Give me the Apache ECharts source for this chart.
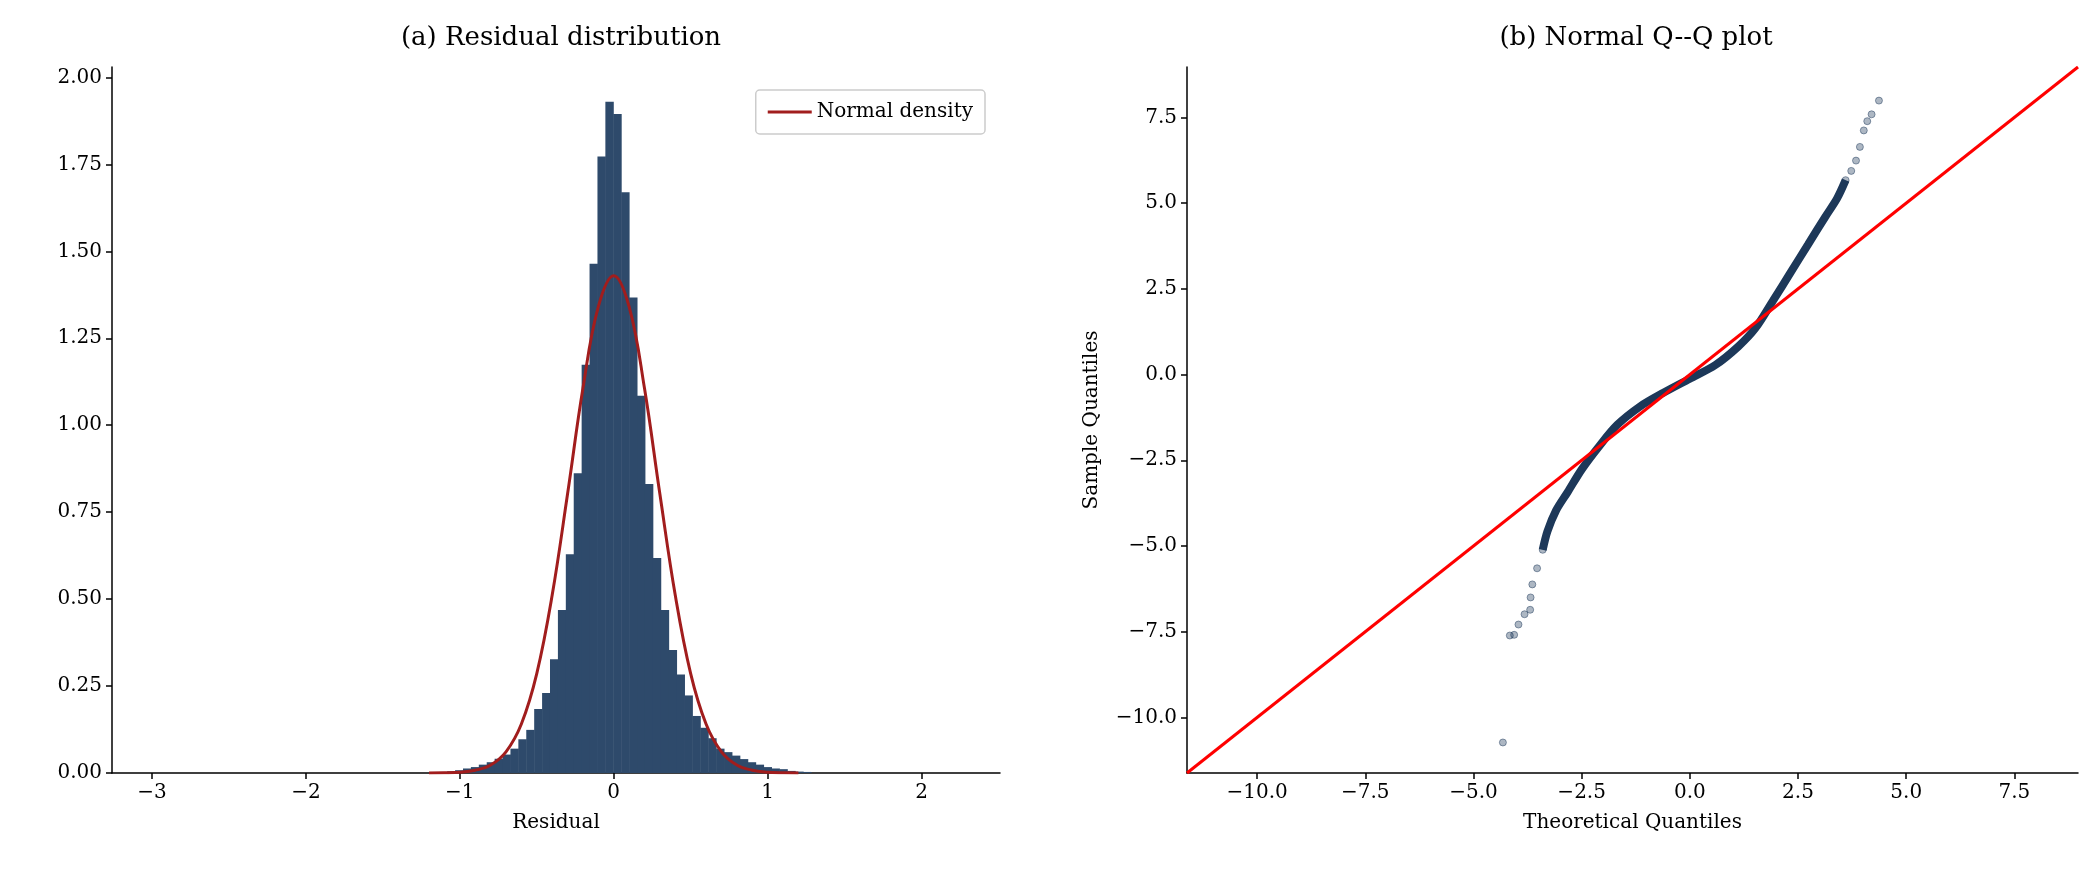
<!DOCTYPE html>
<html>
<head>
<meta charset="utf-8">
<script src="https://cdn.jsdelivr.net/npm/echarts@6/dist/echarts.min.js"></script>
<style>html,body{margin:0;background:#fff}#main{width:2089px;height:887px}</style>
</head>
<body>
<div id="main"></div>
<script>
// histogram: bins of equal width starting at binStart
var binStart = -1.185;
var binWidth = 0.0514;
var density = [0.002, 0.003, 0.005, 0.008, 0.013, 0.017, 0.024, 0.031, 0.041, 0.053,
    0.070, 0.097, 0.124, 0.184, 0.230, 0.327, 0.469, 0.629, 0.862, 1.174,
    1.464, 1.773, 1.930, 1.895, 1.670, 1.367, 1.085, 0.831, 0.618, 0.469,
    0.354, 0.283, 0.223, 0.164, 0.130, 0.100, 0.070, 0.060, 0.050, 0.040,
    0.031, 0.024, 0.017, 0.013, 0.011, 0.006, 0.004, 0.003];

// normal density curve
var normX = [-1.2, -1.1, -1.0, -0.9, -0.8, -0.7, -0.6, -0.5, -0.4, -0.3, -0.2, -0.1, 0,
    0.1, 0.2, 0.3, 0.4, 0.5, 0.6, 0.7, 0.8, 0.9, 1.0, 1.1, 1.2];
var normY = [0.0001, 0.0006, 0.0023, 0.008, 0.023, 0.061, 0.141, 0.286, 0.511, 0.802, 1.106, 1.341, 1.43,
    1.341, 1.106, 0.802, 0.511, 0.286, 0.141, 0.061, 0.023, 0.008, 0.0023, 0.0006, 0.0001];

// Q-Q plot: dense band and the sparse tail points
var qqBandX = [-3.40, -3.29, -3.09, -2.82, -2.49, -2.09, -1.68, -1.15, -0.61, 0, 0.59, 1.12, 1.52, 1.93, 2.33, 2.73, 3.13, 3.40, 3.60];
var qqBandY = [-5.11, -4.57, -3.96, -3.42, -2.75, -2.08, -1.47, -0.93, -0.53, -0.12, 0.28, 0.82, 1.36, 2.17, 2.98, 3.79, 4.60, 5.13, 5.67];
var qqTailX = [-4.32, -4.16, -4.06, -3.96, -3.82, -3.69, -3.68, -3.64, -3.53, -3.40, 3.60, 3.73, 3.84, 3.93, 4.02, 4.10, 4.20, 4.37];
var qqTailY = [-10.73, -7.61, -7.59, -7.29, -6.99, -6.86, -6.50, -6.12, -5.65, -5.11, 5.67, 5.94, 6.24, 6.64, 7.12, 7.39, 7.59, 7.99];

var qqMin = -11.62, qqMax = 8.97;
var histTicks = [-3, -2, -1, 0, 1, 2];
var histYTicks = [0, 0.25, 0.5, 0.75, 1.0, 1.25, 1.5, 1.75, 2.0];
var qqTicks = [-10, -7.5, -5, -2.5, 0, 2.5, 5, 7.5];

var FONT = 'DejaVu Serif';
var navy = '#2e4a6b';

function minus(s) { return s.replace('-', '\u2212'); }

var histData = density.map(function (d, i) {
    return [binStart + i * binWidth, binStart + (i + 1) * binWidth, d];
});
var normData = normX.map(function (x, i) { return [x, normY[i]]; });
var bandData = qqBandX.map(function (x, i) { return [x, qqBandY[i]]; });
var tailData = qqTailX.map(function (x, i) { return [x, qqTailY[i]]; });

function axisCommon(ticks, fmt) {
    return {
        axisLine: { show: true, onZero: false, lineStyle: { color: '#000', width: 1.5 } },
        axisTick: { show: true, length: 6, lineStyle: { color: '#000', width: 1.5 }, customValues: ticks },
        axisLabel: { fontFamily: FONT, fontSize: 20, color: '#000', margin: 10, customValues: ticks, formatter: fmt },
        splitLine: { show: false },
        nameTextStyle: { fontFamily: FONT, fontSize: 20, color: '#000' }
    };
}

var chart = echarts.init(document.getElementById('main'));
var option = {
    animation: false,
    title: [
        { text: '(a) Residual distribution', left: 556, top: 20, textAlign: 'center',
          textStyle: { fontFamily: FONT, fontSize: 26, fontWeight: 'normal', color: '#000' } },
        { text: '(b) Normal Q--Q plot', left: 1631, top: 20, textAlign: 'center',
          textStyle: { fontFamily: FONT, fontSize: 26, fontWeight: 'normal', color: '#000' } }
    ],
    legend: {
        data: ['Normal density'], right: 1104, top: 90,
        orient: 'vertical', itemWidth: 44, itemHeight: 3, padding: [12, 12],
        borderColor: '#ccc', borderWidth: 1.5, borderRadius: 4,
        textStyle: { fontFamily: FONT, fontSize: 20, color: '#000' },
        icon: 'rect'
    },
    grid: [
        { left: 112, right: 1089, top: 67, bottom: 114 },
        { left: 1187, right: 11, top: 67, bottom: 114 }
    ],
    xAxis: [
        Object.assign(axisCommon(histTicks, function (v) { return minus(String(v)); }), {
            type: 'value', gridIndex: 0, min: -3.26, max: 2.51,
            name: 'Residual', nameLocation: 'middle', nameGap: 40
        }),
        Object.assign(axisCommon(qqTicks, function (v) { return minus(v.toFixed(1)); }), {
            type: 'value', gridIndex: 1, min: qqMin, max: qqMax,
            name: 'Theoretical Quantiles', nameLocation: 'middle', nameGap: 40
        })
    ],
    yAxis: [
        Object.assign(axisCommon(histYTicks, function (v) { return v.toFixed(2); }), {
            type: 'value', gridIndex: 0, min: 0, max: 2.03
        }),
        Object.assign(axisCommon(qqTicks, function (v) { return minus(v.toFixed(1)); }), {
            type: 'value', gridIndex: 1, min: qqMin, max: qqMax,
            name: 'Sample Quantiles', nameLocation: 'middle', nameGap: 85, nameRotate: 90
        })
    ],
    series: [
        {
            type: 'custom', xAxisIndex: 0, yAxisIndex: 0, data: histData,
            renderItem: function (params, api) {
                var p0 = api.coord([api.value(0), 0]);
                var p1 = api.coord([api.value(1), api.value(2)]);
                return { type: 'rect', shape: { x: p0[0], y: p1[1], width: p1[0] - p0[0] + 0.5, height: p0[1] - p1[1] },
                         style: { fill: navy } };
            }
        },
        {
            name: 'Normal density', type: 'line', xAxisIndex: 0, yAxisIndex: 0, data: normData,
            smooth: 0.4, symbol: 'none', color: '#a11d1d', lineStyle: { color: '#a11d1d', width: 3 }
        },
        {
            type: 'line', xAxisIndex: 1, yAxisIndex: 1, data: bandData, smooth: 0.3,
            symbol: 'none', lineStyle: { color: '#1d3859', width: 8 }
        },
        {
            type: 'scatter', xAxisIndex: 1, yAxisIndex: 1, data: tailData, symbolSize: 7,
            itemStyle: { color: 'rgba(29,56,89,0.45)', borderColor: 'rgba(29,56,89,0.6)', borderWidth: 1 }
        },
        {
            type: 'line', xAxisIndex: 1, yAxisIndex: 1, data: [[qqMin, qqMin], [qqMax, qqMax]],
            symbol: 'none', lineStyle: { color: '#ff0000', width: 3 }, z: 5
        }
    ]
};
chart.setOption(option);
</script>
</body>
</html>
